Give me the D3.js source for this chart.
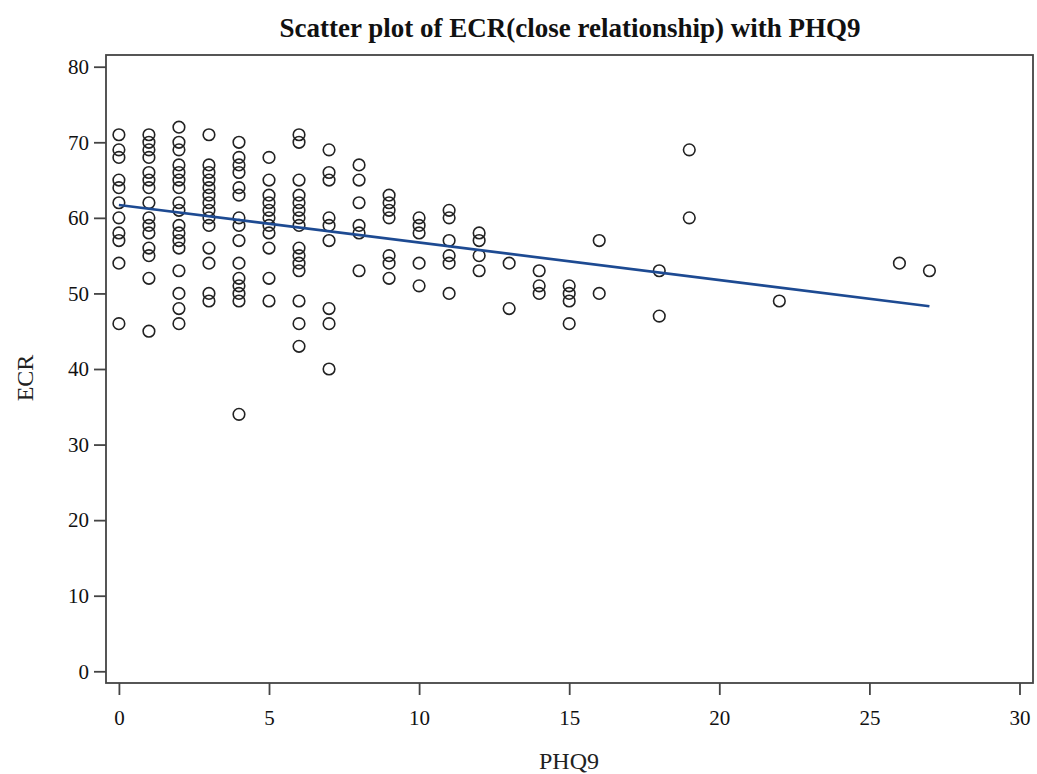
<!DOCTYPE html>
<html>
<head>
<meta charset="utf-8">
<script src="https://cdn.jsdelivr.net/npm/d3@7/dist/d3.min.js"></script>
<style>
  html, body { margin: 0; padding: 0; background: #fff; }
  svg { display: block; }
</style>
</head>
<body>
<svg id="chart" width="1037" height="774"></svg>
<script>
// ---- Data ----
const phq9Levels = [0, 1, 2, 3, 4, 5, 6, 7, 8, 9, 10, 11, 12, 13, 14, 15, 16, 18, 19, 22, 26, 27];
const ecrByLevel = [
  [71, 69, 68, 65, 64, 62, 60, 58, 57, 54, 46],
  [71, 70, 69, 68, 66, 65, 64, 62, 60, 59, 58, 56, 55, 52, 45],
  [72, 70, 69, 67, 66, 65, 64, 62, 61, 59, 58, 57, 56, 53, 50, 48, 46],
  [71, 67, 66, 65, 64, 63, 62, 61, 60, 59, 56, 54, 50, 49],
  [70, 68, 67, 66, 64, 63, 60, 59, 57, 54, 52, 51, 50, 49, 34],
  [68, 65, 63, 62, 61, 60, 59, 58, 56, 52, 49],
  [71, 70, 65, 63, 62, 61, 60, 59, 56, 55, 54, 53, 49, 46, 43],
  [69, 66, 65, 60, 59, 57, 48, 46, 40],
  [67, 65, 62, 59, 58, 53],
  [63, 62, 61, 60, 55, 54, 52],
  [60, 59, 58, 54, 51],
  [61, 60, 57, 55, 54, 50],
  [58, 57, 55, 53],
  [54, 48],
  [53, 51, 50],
  [51, 50, 49, 46],
  [57, 50],
  [53, 47],
  [69, 60],
  [49],
  [54],
  [53]
];
const fitX = [0, 27];
const fitY = [61.7, 48.3];
const xTicks = [0, 5, 10, 15, 20, 25, 30];
const yTicks = [0, 10, 20, 30, 40, 50, 60, 70, 80];
const titleText = "Scatter plot of ECR(close relationship) with PHQ9";
const xLabel = "PHQ9";
const yLabel = "ECR";

// build point table
const points = [];
phq9Levels.forEach((lv, i) => ecrByLevel[i].forEach(v => points.push({x: lv, y: v})));

// ---- Layout ----
const frame = {left: 106, right: 1033, top: 55, bottom: 683};
const x = d3.scaleLinear().domain([-0.43, 30.45]).range([frame.left, frame.right]);
const y = d3.scaleLinear().domain([-1.55, 81.55]).range([frame.bottom, frame.top]);

const svg = d3.select("#chart");
const serif = "'Liberation Serif', 'Times New Roman', serif";

// title
svg.append("text")
  .attr("x", 570).attr("y", 37)
  .attr("text-anchor", "middle")
  .attr("font-family", serif)
  .attr("font-weight", "bold")
  .attr("font-size", 27)
  .attr("fill", "#111")
  .text(titleText);

// frame
svg.append("rect")
  .attr("x", frame.left).attr("y", frame.top)
  .attr("width", frame.right - frame.left).attr("height", frame.bottom - frame.top)
  .attr("fill", "none").attr("stroke", "#444").attr("stroke-width", 1.8);

// axes
const xAxis = d3.axisBottom(x).tickValues(xTicks).tickSize(12).tickPadding(15);
const gx = svg.append("g").attr("transform", `translate(0,${frame.bottom})`).call(xAxis);
gx.select(".domain").remove();
gx.selectAll(".tick line").attr("stroke", "#444").attr("stroke-width", 1.8);
gx.selectAll(".tick text").attr("font-family", serif).attr("font-size", 21).attr("fill", "#111");

const yAxis = d3.axisLeft(y).tickValues(yTicks).tickSize(12).tickPadding(5);
const gy = svg.append("g").attr("transform", `translate(${frame.left},0)`).call(yAxis);
gy.select(".domain").remove();
gy.selectAll(".tick line").attr("stroke", "#444").attr("stroke-width", 1.8);
gy.selectAll(".tick text").attr("font-family", serif).attr("font-size", 21).attr("fill", "#111");

// axis labels
svg.append("text")
  .attr("x", 569).attr("y", 769)
  .attr("text-anchor", "middle")
  .attr("font-family", serif).attr("font-size", 24).attr("fill", "#222")
  .text(xLabel);
svg.append("text")
  .attr("transform", `translate(33,${(frame.top + frame.bottom) / 2 + 9}) rotate(-90)`)
  .attr("text-anchor", "middle")
  .attr("font-family", serif).attr("font-size", 24).attr("fill", "#222")
  .text(yLabel);

// points
svg.append("g").selectAll("circle").data(points).join("circle")
  .attr("cx", d => x(d.x)).attr("cy", d => y(d.y)).attr("r", 5.8)
  .attr("fill", "none").attr("stroke", "#222").attr("stroke-width", 1.6);

// fit line
const fitData = fitX.map((v, i) => ({x: v, y: fitY[i]}));
svg.append("path")
  .datum(fitData)
  .attr("d", d3.line().x(d => x(d.x)).y(d => y(d.y)))
  .attr("fill", "none").attr("stroke", "#1d4a92").attr("stroke-width", 2.6);
</script>
</body>
</html>
